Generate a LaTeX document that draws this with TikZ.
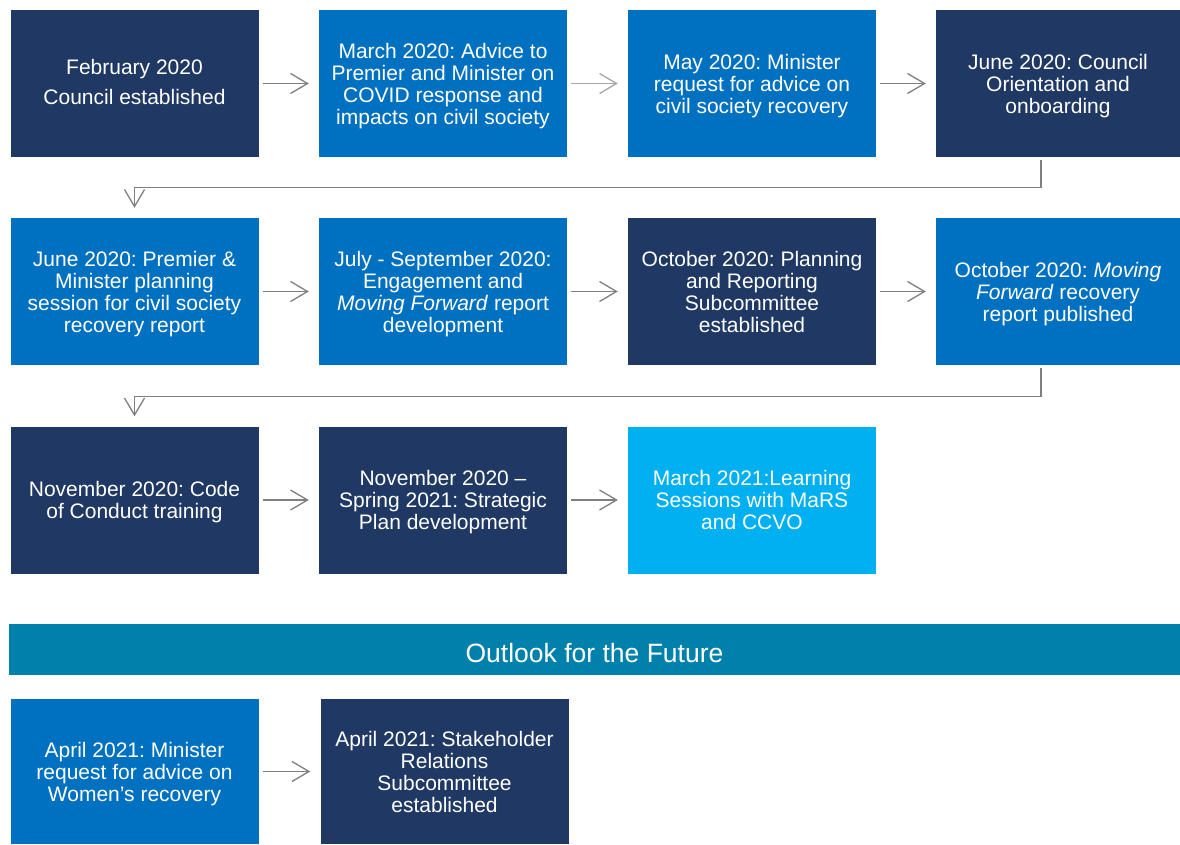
\documentclass[tikz,border=0pt]{standalone}
\usepackage{fontspec}
\setmainfont{Liberation Sans}
\usetikzlibrary{arrows.meta}
\frenchspacing

\definecolor{navy}{HTML}{1F3864}
\definecolor{midblue}{HTML}{0070C0}
\definecolor{skyblue}{HTML}{00B0F0}
\definecolor{bannerblue}{HTML}{0081AB}
\definecolor{arrgray}{HTML}{7F7F7F}

\begin{document}
\begin{tikzpicture}[
  x=1pt, y=1pt,
  box/.style={rectangle, minimum width=248pt, minimum height=147pt,
              inner sep=0pt, text=white, align=center, text depth=0pt,
              font=\fontsize{21}{22}\selectfont},
  arr/.style={-{Straight Barb[length=17pt,width=20pt]}, line width=1.3pt,
              arrgray, shorten <=4pt, shorten >=10pt},
  larr/.style={arr, black!35},
  wrapline/.style={-{Straight Barb[length=17pt,width=20pt]}, line width=1.3pt,
              arrgray, shorten <=3pt, shorten >=10pt},
  banner/.style={rectangle, fill=bannerblue, text=white, inner sep=0pt,
              minimum width=1171pt, minimum height=51pt,
              text height=25pt, text depth=0pt,
              font=\fontsize{26.5}{30}\selectfont},
]
  \useasboundingbox (0,0) rectangle (1180,-844);

  \def\xA{134.5}   % column 1
  \def\xB{443}     % column 2
  \def\xC{752}     % column 3
  \def\xD{1058}    % column 4 (runs to the edge)
  \def\yA{-83.5}   % row 1
  \def\yB{-291.5}  % row 2
  \def\yC{-500}    % row 3
  \def\yD{-771.5}  % outlook row

  % --- Row 1 ---
  \node[box, fill=navy, text depth=4pt] (r1a) at (\xA,\yA) {February 2020\\[8pt]Council established};
  \node[box, fill=midblue] (r1b) at (\xB,\yA) {March 2020: Advice to\\Premier and Minister on\\COVID response and\\impacts on civil society};
  \node[box, fill=midblue] (r1c) at (\xC,\yA) {May 2020: Minister\\request for advice on\\civil society recovery};
  \node[box, fill=navy, minimum width=244pt] (r1d) at (\xD,\yA) {June 2020: Council\\Orientation and\\onboarding};

  \draw[arr]  (r1a) -- (r1b);
  \draw[larr] (r1b) -- (r1c);
  \draw[arr]  (r1c) -- (r1d);

  % --- Row 2 ---
  \node[box, fill=midblue] (r2a) at (\xA,\yB) {June 2020: Premier \&\\Minister planning\\session for civil society\\recovery report};
  \node[box, fill=midblue] (r2b) at (\xB,\yB) {July - September 2020:\\Engagement and\\\textit{Moving Forward} report\\development};
  \node[box, fill=navy]    (r2c) at (\xC,\yB) {October 2020: Planning\\and Reporting\\Subcommittee\\established};
  \node[box, fill=midblue, minimum width=244pt] (r2d) at (\xD,\yB) {October 2020: \textit{Moving}\\\textit{Forward} recovery\\report published};

  \draw[wrapline] ([xshift=-17pt]r1d.south) -- ++(0,-30) -| (r2a.north);
  \draw[arr] (r2a) -- (r2b);
  \draw[arr] (r2b) -- (r2c);
  \draw[arr] (r2c) -- (r2d);

  % --- Row 3 ---
  \node[box, fill=navy]    (r3a) at (\xA,\yC) {November 2020: Code\\of Conduct training};
  \node[box, fill=navy]    (r3b) at (\xB,\yC) {November 2020 –\\Spring 2021: Strategic\\Plan development};
  \node[box, fill=skyblue] (r3c) at (\xC,\yC) {March 2021:Learning\\Sessions with MaRS\\and CCVO};

  \draw[wrapline] ([xshift=-17pt]r2d.south) -- ++(0,-31) -| (r3a.north);
  \draw[arr] (r3a) -- (r3b);
  \draw[arr] (r3b) -- (r3c);

  % --- Outlook ---
  \node[banner] (outlook) at (594.5,-649.5) {Outlook for the Future};

  \node[box, fill=midblue, minimum height=145pt] (r4a) at (\xA,\yD) {April 2021: Minister\\request for advice on\\Women’s recovery};
  \node[box, fill=navy, minimum height=145pt]    (r4b) at (444.5,\yD) {April 2021: Stakeholder\\Relations\\Subcommittee\\established};

  \draw[arr] (r4a) -- (r4b);

\end{tikzpicture}
\end{document}
